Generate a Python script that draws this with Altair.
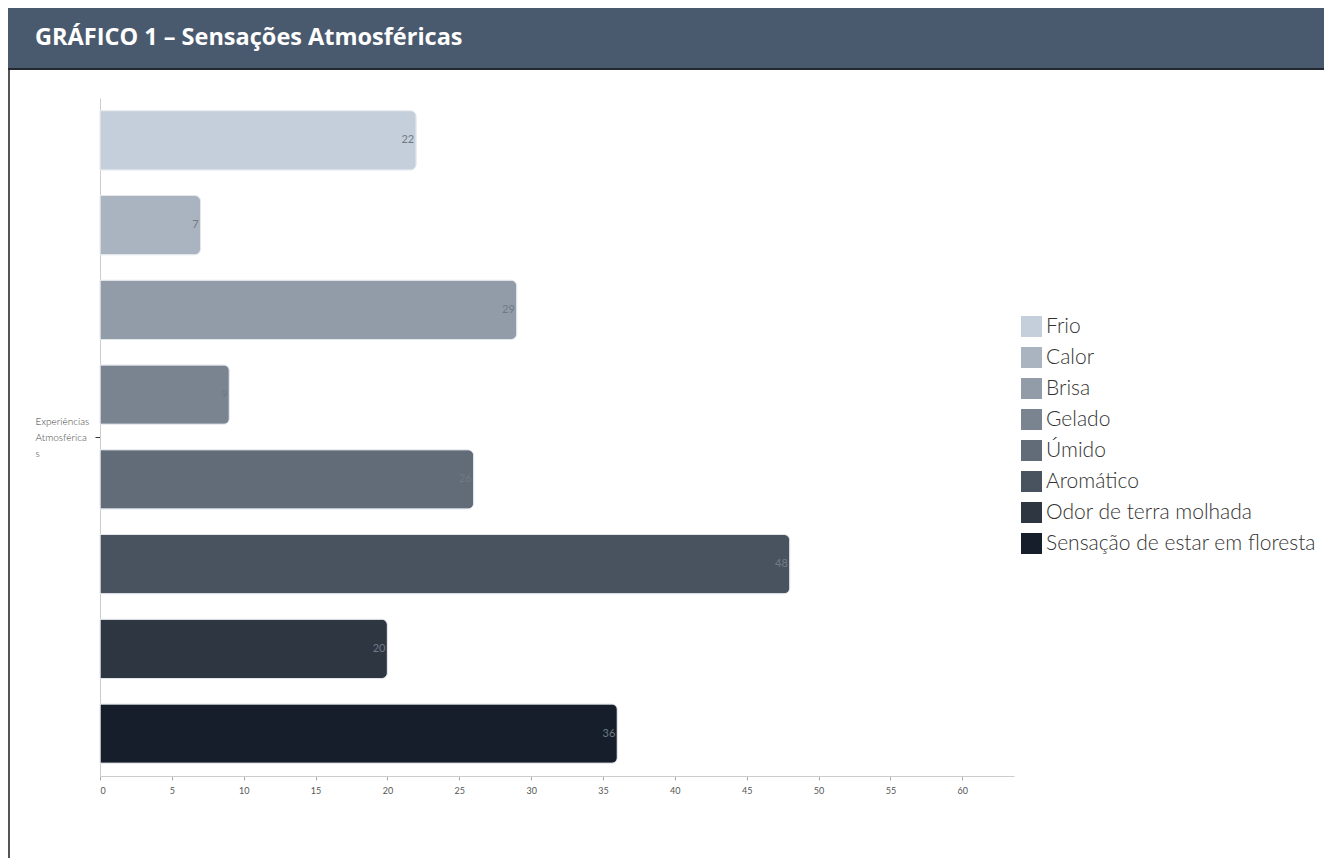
import altair as alt
import pandas as pd

# ---- data ----
categories = ["Frio", "Calor", "Brisa", "Gelado", "Úmido", "Aromático",
              "Odor de terra molhada", "Sensação de estar em floresta"]
values = [22, 7, 29, 9, 26, 48, 20, 36]
colors = ["#c5cfdb", "#aab4c0", "#929ca8", "#7a8390", "#626b78",
          "#49525f", "#2e3642", "#151e2a"]
group = "Experiências Atmosféricas"
ylabel_lines = ["Experiências", "Atmosférica", "s"]
x_ticks = list(range(0, 61, 5))
title_text = "GRÁFICO 1 – Sensações Atmosféricas"

df = pd.DataFrame({"grupo": [group] * len(categories),
                   "sensacao": categories, "valor": values})
hdr = pd.DataFrame({"t": [title_text]})

label_expr = "[" + ", ".join("'" + s + "'" for s in ylabel_lines) + "]"

W, H = 914, 678
PL, PT, PR, PB = 92, 90, 310, 82

base = alt.Chart(df).encode(
    y=alt.Y("grupo:N", title=None,
            scale=alt.Scale(paddingInner=0, paddingOuter=0),
            axis=alt.Axis(labelExpr=label_expr, labelAlign="left",
                          labelBaseline="middle", labelOffset=-15,
                          labelPadding=60, labelFontSize=10, labelColor="#444",
                          labelFont="Lato", labelFontWeight=300,
                          labelLineHeight=16,
                          tickSize=5, tickColor="#333", domainColor="#cccccc")),
    yOffset=alt.YOffset("sensacao:N", sort=categories,
                        scale=alt.Scale(paddingInner=0.3, paddingOuter=0.15)),
    x=alt.X("valor:Q", title=None,
            scale=alt.Scale(domain=[0, 63.6], nice=False, zero=True),
            axis=alt.Axis(values=x_ticks, grid=False, labelFontSize=9,
                          labelColor="#555", labelFont="Lato", tickSize=4,
                          tickColor="#aaaaaa", domainColor="#cccccc",
                          labelPadding=6)),
)

bars = base.mark_bar(cornerRadiusEnd=6, stroke="#e3e7ec", strokeWidth=1).encode(
    color=alt.Color("sensacao:N", sort=categories,
                    scale=alt.Scale(domain=categories, range=colors),
                    legend=alt.Legend(title=None, orient="none", legendX=921,
                                      legendY=218, symbolType="square",
                                      symbolSize=441, symbolStrokeWidth=0,
                                      labelFontSize=21, labelFont="Lato",
                                      labelFontWeight=300, labelColor="#333",
                                      labelLimit=0,
                                      rowPadding=9, labelOffset=4, padding=0))
)

labels = base.mark_text(align="right", baseline="middle", dx=-2, fontSize=11,
                        font="Lato", color="#707a85").encode(text="valor:Q")

header_rect = alt.Chart(hdr).mark_rect(color="#4a5a6e").encode(
    x=alt.value(-PL), x2=alt.value(W + PR), y=alt.value(-PT), y2=alt.value(-30))
header_line = alt.Chart(hdr).mark_rule(color="#23282f", strokeWidth=2).encode(
    x=alt.value(-PL), x2=alt.value(W + PR), y=alt.value(-29))
left_border = alt.Chart(hdr).mark_rule(color="#555555", strokeWidth=2).encode(
    x=alt.value(-PL + 1), y=alt.value(-28), y2=alt.value(H + PB))
header_text = alt.Chart(hdr).mark_text(
    align="left", baseline="alphabetic", font="Open Sans", fontSize=23.5,
    fontWeight="bold", color="white").encode(
    x=alt.value(-65), y=alt.value(-53), text="t:N")

chart = alt.layer(header_rect, header_line, left_border, header_text,
                  bars, labels).properties(
    width=W, height=H,
    padding={"left": PL, "top": PT, "right": PR, "bottom": PB},
    autosize=alt.AutoSizeParams(type="none"),
    background="white",
).configure_view(stroke=None)

chart.save("out.html", embed_options={"renderer": "svg", "actions": False})
